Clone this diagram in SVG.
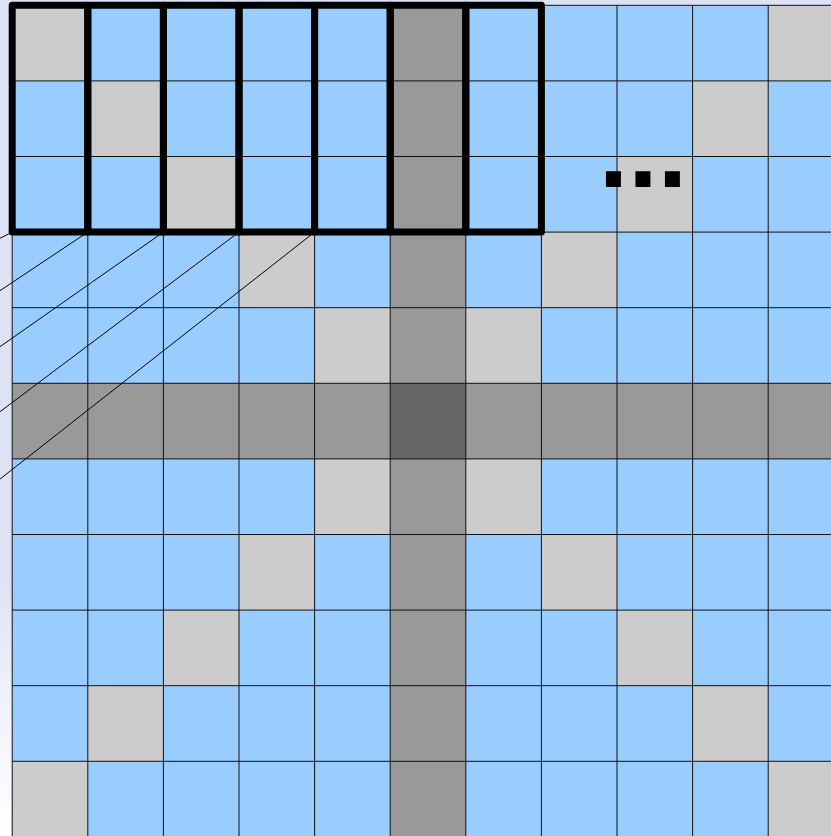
<svg xmlns="http://www.w3.org/2000/svg" width="831" height="836" viewBox="0 0 831 836">
<defs>
<radialGradient id="bgGlow" cx="0" cy="836" r="260" gradientUnits="userSpaceOnUse">
<stop offset="0" stop-color="#ffffff"/>
<stop offset="0.5" stop-color="#f1f3fb"/>
<stop offset="1" stop-color="#dde2f5"/>
</radialGradient>
<style>
.b{fill:#99ccff}
.g{fill:#cccccc}
.d{fill:#999999}
.c{fill:#666666}
.grid{fill:none;stroke:#111;stroke-width:1}
.thick{fill:none;stroke:#000;stroke-width:7;stroke-linejoin:round}
.ray{fill:none;stroke:#000;stroke-width:1}
.dots{font-family:"Liberation Sans",Arial,sans-serif;font-weight:bold;font-size:106px;fill:#000}
</style>
</defs>
<rect id="background" x="0" y="0" width="831" height="836" fill="#dde2f5"/>
<rect x="0" y="0" width="831" height="836" fill="url(#bgGlow)"/>
<g id="cells">
<rect class="b" x="12.2" y="5.3" width="819" height="831"/>
<rect class="g" x="12.2" y="5.3" width="75.6" height="75.6"/>
<rect class="g" x="768.2" y="5.3" width="75.6" height="75.6"/>
<rect class="g" x="87.8" y="80.9" width="75.6" height="75.6"/>
<rect class="g" x="692.6" y="80.9" width="75.6" height="75.6"/>
<rect class="g" x="163.4" y="156.5" width="75.6" height="75.6"/>
<rect class="g" x="617" y="156.5" width="75.6" height="75.6"/>
<rect class="g" x="239" y="232.1" width="75.6" height="75.6"/>
<rect class="g" x="541.4" y="232.1" width="75.6" height="75.6"/>
<rect class="g" x="314.6" y="307.7" width="75.6" height="75.6"/>
<rect class="g" x="465.8" y="307.7" width="75.6" height="75.6"/>
<rect class="g" x="314.6" y="458.9" width="75.6" height="75.6"/>
<rect class="g" x="465.8" y="458.9" width="75.6" height="75.6"/>
<rect class="g" x="239" y="534.5" width="75.6" height="75.6"/>
<rect class="g" x="541.4" y="534.5" width="75.6" height="75.6"/>
<rect class="g" x="163.4" y="610.1" width="75.6" height="75.6"/>
<rect class="g" x="617" y="610.1" width="75.6" height="75.6"/>
<rect class="g" x="87.8" y="685.7" width="75.6" height="75.6"/>
<rect class="g" x="692.6" y="685.7" width="75.6" height="75.6"/>
<rect class="g" x="12.2" y="761.3" width="75.6" height="75.6"/>
<rect class="g" x="768.2" y="761.3" width="75.6" height="75.6"/>
<rect class="d" x="390.2" y="5.3" width="75.6" height="831"/>
<rect class="d" x="12.2" y="383.3" width="819" height="75.6"/>
<rect class="c" x="390.2" y="383.3" width="75.6" height="75.6"/>
</g>
<path class="grid" d="M12.2 5.3V836M87.8 5.3V836M163.4 5.3V836M239 5.3V836M314.6 5.3V836M390.2 5.3V836M465.8 5.3V836M541.4 5.3V836M617 5.3V836M692.6 5.3V836M768.2 5.3V836M12.2 5.3H831M12.2 80.9H831M12.2 156.5H831M12.2 232.1H831M12.2 307.7H831M12.2 383.3H831M12.2 458.9H831M12.2 534.5H831M12.2 610.1H831M12.2 685.7H831M12.2 761.3H831"/>
<g id="connectors">
<path class="ray" d="M-2 239.3L12.2 232.1"/>
<path class="ray" d="M-2 292L87.8 232.1"/>
<path class="ray" d="M-2 348.1L163.4 232.1"/>
<path class="ray" d="M-2 413.2L239 232.1"/>
<path class="ray" d="M-2 480.6L314.6 232.1"/>
</g>
<g id="blocks">
<rect id="block0" class="thick" x="12.2" y="5.3" width="75.6" height="226.8"/>
<rect id="block1" class="thick" x="87.8" y="5.3" width="75.6" height="226.8"/>
<rect id="block2" class="thick" x="163.4" y="5.3" width="75.6" height="226.8"/>
<rect id="block3" class="thick" x="239" y="5.3" width="75.6" height="226.8"/>
<rect id="block4" class="thick" x="314.6" y="5.3" width="75.6" height="226.8"/>
<rect id="block5" class="thick" x="390.2" y="5.3" width="75.6" height="226.8"/>
<rect id="block6" class="thick" x="465.8" y="5.3" width="75.6" height="226.8"/>
</g>
<text id="ellipsis" class="dots" x="598.8" y="186.5">...</text>
</svg>
